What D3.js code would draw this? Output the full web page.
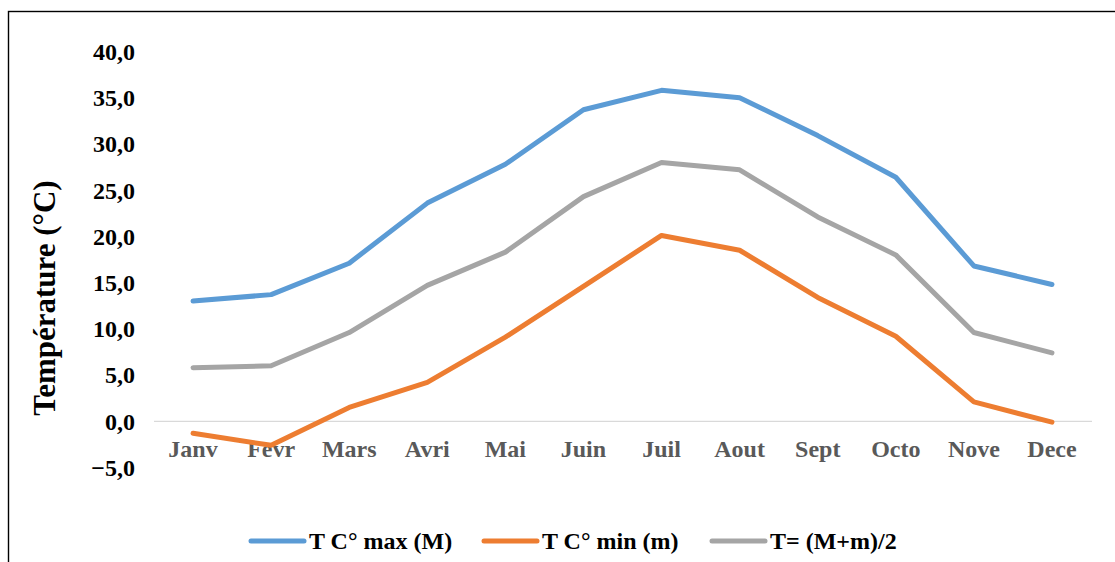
<!DOCTYPE html>
<html>
<head>
<meta charset="utf-8">
<script src="https://cdn.jsdelivr.net/npm/d3@7"></script>
<style>
  body { margin: 0; background: #fff; }
  svg { display: block; font-family: "Liberation Serif", "Times New Roman", serif; font-weight: bold; }
</style>
</head>
<body>
<div id="chart"></div>
<script>
// Monthly temperatures
const months = ['Janv', 'Fevr', 'Mars', 'Avri', 'Mai', 'Juin', 'Juil', 'Aout', 'Sept', 'Octo', 'Nove', 'Dece'];
const tMax  = [13.0, 13.7, 17.1, 23.6, 27.8, 33.7, 35.8, 35.0, 30.9, 26.4, 16.8, 14.8];
const tMin  = [-1.3, -2.6, 1.5, 4.2, 9.1, 14.6, 20.1, 18.5, 13.4, 9.2, 2.1, -0.1];
const tMean = [5.8, 6.0, 9.6, 14.7, 18.3, 24.3, 28.0, 27.2, 22.1, 18.0, 9.6, 7.4];
const seriesNames = ['T C° max (M)', 'T C° min (m)', 'T= (M+m)/2'];
const yTicks = [-5, 0, 5, 10, 15, 20, 25, 30, 35, 40];

const width = 1115, height = 562;
const colors = ['#5B9BD5', '#ED7D31', '#A5A5A5'];
const series = [tMax, tMin, tMean];

const svg = d3.select('#chart')
  .append('svg')
    .attr('width', width)
    .attr('height', height);

// Frame (runs off the right and bottom edges)
svg.append('rect')
  .attr('x', 8.5).attr('y', 11.5)
  .attr('width', 1130).attr('height', 580)
  .attr('fill', 'none')
  .attr('stroke', '#000')
  .attr('stroke-width', 1.4);

// Scales
const x = d3.scaleBand().domain(months).range([154, 1091]);
const y = d3.scaleLinear().domain([-5, 40]).range([467.5, 51.5]);

// Y tick labels
svg.append('g')
  .selectAll('text')
  .data(yTicks)
  .join('text')
    .attr('x', 135)
    .attr('y', d => y(d))
    .attr('dy', '0.35em')
    .attr('text-anchor', 'end')
    .attr('font-size', 24)
    .attr('fill', '#000')
    .text(d => d3.format('.1f')(d).replace('.', ','));

// Zero line
svg.append('line')
  .attr('x1', x.range()[0]).attr('x2', x.range()[1] + 1)
  .attr('y1', y(0)).attr('y2', y(0))
  .attr('stroke', '#D9D9D9')
  .attr('stroke-width', 1.3);

// X labels
svg.append('g')
  .selectAll('text')
  .data(months)
  .join('text')
    .attr('x', d => x(d) + x.bandwidth() / 2)
    .attr('y', 449)
    .attr('dy', '0.35em')
    .attr('text-anchor', 'middle')
    .attr('font-size', 24)
    .attr('fill', '#595959')
    .text(d => d);

// Axis title
svg.append('text')
  .attr('transform', 'translate(44,298) rotate(-90)')
  .attr('dy', '0.35em')
  .attr('text-anchor', 'middle')
  .attr('font-size', 31)
  .attr('fill', '#000')
  .text('Température (°C)');

// Lines
const line = d3.line()
  .x((d, i) => x(months[i]) + x.bandwidth() / 2)
  .y(d => y(d));

svg.append('g')
  .selectAll('path')
  .data(series)
  .join('path')
    .attr('d', line)
    .attr('fill', 'none')
    .attr('stroke', (d, i) => colors[i])
    .attr('stroke-width', 5)
    .attr('stroke-linecap', 'round')
    .attr('stroke-linejoin', 'round');

// Legend
const legendX = [251, 484, 712];
const legend = svg.append('g')
  .selectAll('g')
  .data(seriesNames)
  .join('g')
    .attr('transform', (d, i) => `translate(${legendX[i]},541)`);

legend.append('line')
  .attr('x1', 0).attr('x2', 53)
  .attr('stroke', (d, i) => colors[i])
  .attr('stroke-width', 5)
  .attr('stroke-linecap', 'round');

legend.append('text')
  .attr('x', 58)
  .attr('dy', '0.35em')
  .attr('font-size', 24)
  .attr('fill', '#000')
  .text(d => d);
</script>
</body>
</html>
